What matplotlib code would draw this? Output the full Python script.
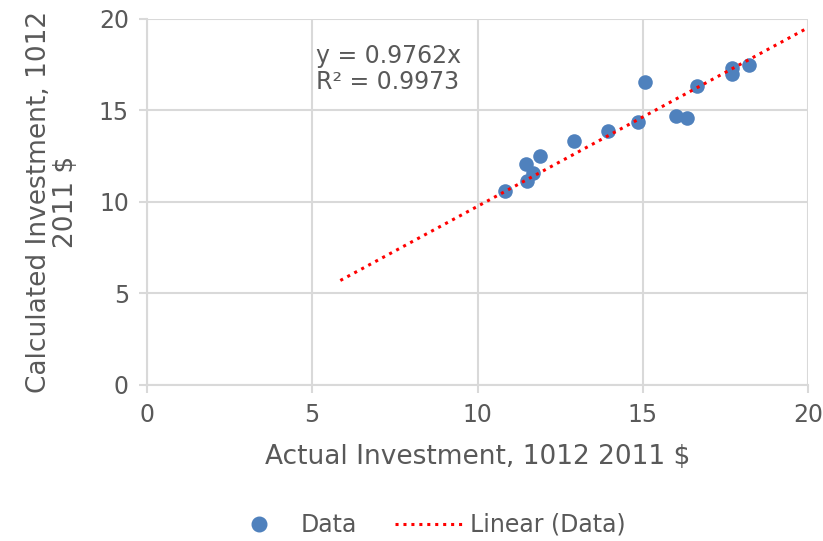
import numpy as np
import matplotlib
matplotlib.use("Agg")
import matplotlib.pyplot as plt
from matplotlib.lines import Line2D

# --- data ---
actual = [10.83, 11.46, 11.49, 11.69, 11.90, 12.93, 13.95, 14.86, 15.08,
          16.00, 16.34, 16.64, 17.70, 17.70, 18.20]
calculated = [10.60, 12.06, 11.16, 11.57, 12.53, 13.35, 13.88, 14.39, 16.56,
              14.68, 14.61, 16.34, 17.30, 16.99, 17.47]
slope = 0.9762
r_squared = 0.9973
trend_range = [5.85, 20]

GRID = '#d9d9d9'
TEXT = '#595959'
BLUE = '#4f81bd'

plt.rcParams['font.family'] = ['DejaVu Sans']

fig = plt.figure(figsize=(8.23, 5.41), dpi=100)
ax = fig.add_axes([0.1786, 0.2884, 0.8032, 0.6765])

ax.scatter(actual, calculated, s=110, color=BLUE, zorder=3, linewidths=0)

tx = np.array(trend_range)
ax.plot(tx, slope * tx, color='red', linestyle=(0, (1, 1.6)), linewidth=2.2, zorder=4)

ax.set_xlim(0, 20)
ax.set_ylim(0, 20)
ax.set_xticks([0, 5, 10, 15, 20])
ax.set_yticks([0, 5, 10, 15, 20])
ax.grid(True, color=GRID, linewidth=1.5)
ax.set_axisbelow(True)

for side in ['top', 'right']:
    ax.spines[side].set_visible(False)
for side in ['left', 'bottom']:
    ax.spines[side].set_color(GRID)
    ax.spines[side].set_linewidth(1.5)
ax.tick_params(axis='both', colors=GRID, length=6, width=1.5, labelsize=17,
               labelcolor=TEXT, pad=7)

ax.set_xlabel('Actual Investment, 1012 2011 $', fontsize=19, color=TEXT, labelpad=12)
ax.set_ylabel('Calculated Investment, 1012\n2011 $', fontsize=19, color=TEXT,
              labelpad=14, linespacing=1.05)

ax.text(5.1, 17.27, f'y = {slope}x\nR² = {r_squared}', fontsize=17, color=TEXT,
        va='center', ha='left', linespacing=1.15)

handles = [
    Line2D([], [], marker='o', color=BLUE, linestyle='none', markersize=10.5),
    Line2D([], [], color='red', linestyle=(0, (1, 1.6)), linewidth=2.2),
]
fig.legend(handles, ['Data', 'Linear (Data)'], loc='center', bbox_to_anchor=(0.517, 0.03),
           ncol=2, frameon=False, fontsize=17, labelcolor=TEXT, handlelength=2.9,
           columnspacing=1.6, handletextpad=0.3)

fig.savefig('out.png', dpi=100)
